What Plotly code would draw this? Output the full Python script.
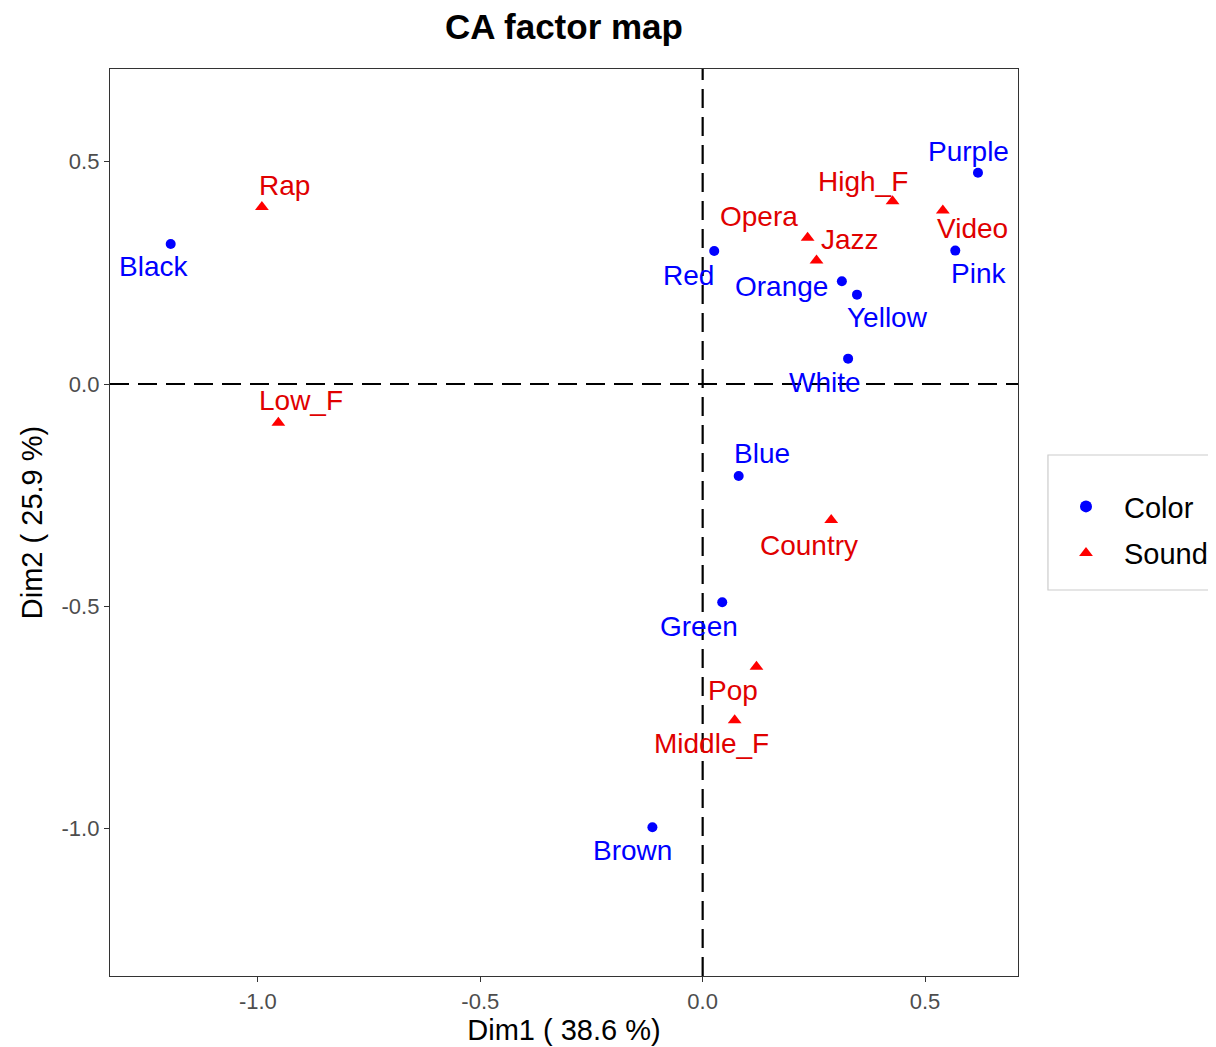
import plotly.graph_objects as go

# ---- data ----
color_names = ["Black", "Red", "Orange", "Yellow", "White", "Purple", "Pink",
               "Blue", "Green", "Brown"]
color_dim1 = [-1.196, 0.026, 0.313, 0.347, 0.327, 0.619, 0.568, 0.081, 0.044, -0.113]
color_dim2 = [0.315, 0.299, 0.231, 0.201, 0.057, 0.475, 0.300, -0.207, -0.491, -0.997]

sound_names = ["Rap", "Low_F", "Opera", "Jazz", "High_F", "Video", "Country",
               "Pop", "Middle_F"]
sound_dim1 = [-0.991, -0.954, 0.236, 0.256, 0.427, 0.540, 0.289, 0.121, 0.072]
sound_dim2 = [0.398, -0.087, 0.329, 0.278, 0.411, 0.390, -0.306, -0.636, -0.756]

x_ticks = [-1.0, -0.5, 0.0, 0.5]
x_tick_labels = ["-1.0", "-0.5", "0.0", "0.5"]
y_ticks = [-1.0, -0.5, 0.0, 0.5]
y_tick_labels = ["-1.0", "-0.5", "0.0", "0.5"]

x_title = "Dim1 ( 38.6 %)"
y_title = "Dim2 ( 25.9 %)"
chart_title = "CA factor map"

# label offsets (pixels, right / down) emulating repelled labels
color_label_offsets = {
    "Black": (-17, 23), "Red": (-26, 24), "Orange": (-60, 5), "Yellow": (31, 23),
    "White": (-23, 24), "Purple": (-9, -21), "Pink": (23, 23), "Blue": (23, -23),
    "Green": (-23, 24), "Brown": (-20, 23),
}
sound_label_offsets = {
    "Rap": (23, -22), "Low_F": (23, -22), "Opera": (-49, -21), "Jazz": (33, -21),
    "High_F": (-30, -20), "Video": (30, 18), "Country": (-22, 25),
    "Pop": (-23, 24), "Middle_F": (-23, 23),
}

FONT = "Liberation Sans, Arial, sans-serif"
BLUE = "#0000FF"
RED = "#FF0000"
RED_TXT = "#E00000"

# page has an 8px body margin: figure sized so its right/bottom edges meet the window
W, H = 1208, 1039

fig = go.Figure()
fig.add_trace(go.Scatter(
    x=color_dim1, y=color_dim2, mode="markers", name="Color",
    legendgroup="Color",
    marker=dict(color=BLUE, size=10, symbol="circle"),
    text=color_names, hoverinfo="text+x+y",
))
fig.add_trace(go.Scatter(
    x=sound_dim1, y=sound_dim2, mode="markers", name="Sound",
    legendgroup="Sound",
    marker=dict(color=RED, size=12, symbol="triangle-up"),
    text=sound_names, hoverinfo="text+x+y",
))

annotations = []
for n, xv, yv in zip(color_names, color_dim1, color_dim2):
    dx, dy = color_label_offsets[n]
    annotations.append(dict(x=xv, y=yv, xref="x", yref="y", text=n, showarrow=False,
                            xshift=dx, yshift=-dy, xanchor="center", yanchor="middle",
                            font=dict(family=FONT, size=28, color=BLUE)))
for n, xv, yv in zip(sound_names, sound_dim1, sound_dim2):
    dx, dy = sound_label_offsets[n]
    annotations.append(dict(x=xv, y=yv, xref="x", yref="y", text=n, showarrow=False,
                            xshift=dx, yshift=-dy, xanchor="center", yanchor="middle",
                            font=dict(family=FONT, size=28, color=RED_TXT)))

shapes = [
    dict(type="line", xref="x", yref="paper", x0=0, x1=0, y0=0, y1=1, layer="above",
         line=dict(color="black", width=2.2, dash="19px,9px")),
    dict(type="line", xref="paper", yref="y", x0=0, x1=1, y0=0, y1=0, layer="above",
         line=dict(color="black", width=2.2, dash="19px,9px")),
    # legend box (continues past the right edge of the figure)
    dict(type="rect", xref="paper", yref="paper", x0=1.0330, x1=1.30,
         y0=0.4256, y1=0.5744, line=dict(color="#CCCCCC", width=1.2),
         fillcolor="rgba(0,0,0,0)", layer="above"),
]

axis_common = dict(
    showgrid=False, zeroline=False, showline=True, mirror=True, automargin=False,
    linecolor="#333333", linewidth=1.3, ticks="outside", ticklen=5,
    tickwidth=1.2, tickcolor="#333333",
    tickfont=dict(family=FONT, size=22, color="#4D4D4D"),
)

fig.update_layout(
    width=W, height=H,
    paper_bgcolor="white", plot_bgcolor="white",
    margin=dict(l=102, r=198, t=61, b=71, autoexpand=False),
    title=dict(text="<b>" + chart_title + "</b>", x=0.5, xref="paper",
               y=1 - 19 / H, yref="container", yanchor="middle", xanchor="center",
               font=dict(family=FONT, size=35, color="black")),
    xaxis=dict(range=[-1.3325, 0.709], tickvals=x_ticks, ticktext=x_tick_labels,
               title=dict(text=x_title, standoff=7,
                          font=dict(family=FONT, size=29, color="black")),
               **axis_common),
    yaxis=dict(range=[-1.3315, 0.7085], tickvals=y_ticks, ticktext=y_tick_labels,
               title=dict(text=y_title, standoff=10,
                          font=dict(family=FONT, size=29, color="black")),
               **axis_common),
    showlegend=True,
    legend=dict(xref="container", x=1040 / W, xanchor="left",
                yref="paper", y=0.4917, yanchor="middle",
                bgcolor="rgba(0,0,0,0)", borderwidth=0, itemwidth=66,
                tracegroupgap=6, itemsizing="constant",
                font=dict(family=FONT, size=29, color="black")),
    annotations=annotations,
    shapes=shapes,
)

fig.write_html("out.html")
